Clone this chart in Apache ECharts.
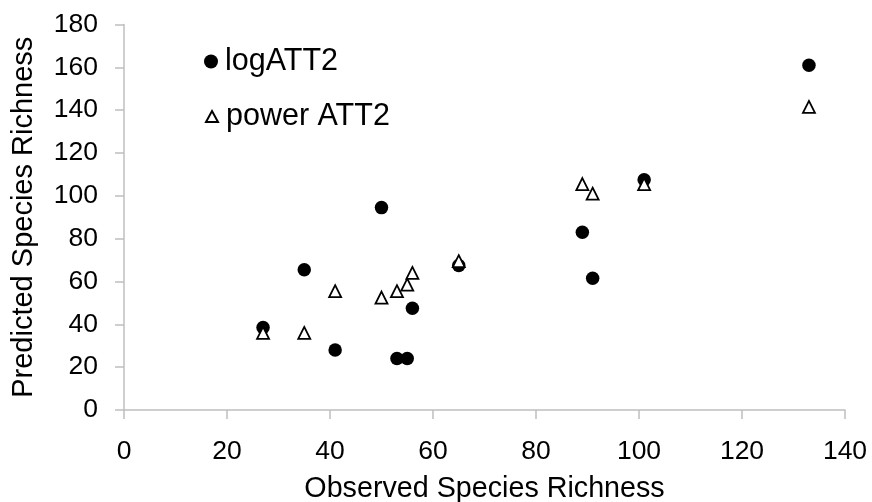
<!DOCTYPE html>
<html>
<head>
<meta charset="utf-8">
<script src="https://cdn.jsdelivr.net/npm/echarts@6/dist/echarts.min.js"></script>
<style>
  html, body { margin: 0; padding: 0; background: #fff; }
  #chart { width: 872px; height: 502px; }
</style>
</head>
<body>
<div id="chart"></div>
<script>
const observed = [27, 35, 41, 50, 53, 55, 56, 65, 89, 91, 101, 133];
const logATT2 = [38.5, 65.5, 28, 94.5, 24, 24, 47.5, 67.5, 83, 61.5, 107.5, 161];
const powerATT2 = [36, 36, 55.5, 52.5, 55.5, 58.5, 64, 69.5, 105.5, 101, 105.5, 141.5];
const seriesNames = ['logATT2', 'power ATT2'];
const xTitle = 'Observed Species Richness';
const yTitle = 'Predicted Species Richness';

const FONT = '"Liberation Sans", Arial, sans-serif';
const pair = (ys) => observed.map((x, i) => [x, ys[i]]);

const chart = echarts.init(document.getElementById('chart'), null, { renderer: 'canvas' });
chart.setOption({
  backgroundColor: '#ffffff',
  animation: false,
  textStyle: { fontFamily: FONT },
  grid: { left: 124, right: 27, top: 24.5, bottom: 92, containLabel: false, outerBoundsMode: 'none' },
  legend: [
    {
      data: [{ name: seriesNames[0], icon: 'circle' }],
      left: 204, top: 46, padding: 0,
      itemWidth: 14, itemHeight: 14, symbolKeepAspect: true,
      textStyle: { fontSize: 30.5, color: '#000', fontFamily: FONT, padding: [0, 0, 0, 2] }
    },
    {
      data: [{ name: seriesNames[1], icon: 'triangle' }],
      left: 205, top: 101, padding: 0,
      itemWidth: 12, itemHeight: 11, symbolKeepAspect: true,
      textStyle: { fontSize: 30.5, color: '#000', fontFamily: FONT, padding: [0, 0, 0, 3] }
    }
  ],
  xAxis: {
    type: 'value', min: 0, max: 140, interval: 20,
    name: xTitle, nameLocation: 'middle', nameGap: 65,
    nameTextStyle: { fontSize: 28.7, color: '#000', fontFamily: FONT },
    axisLine: { show: true, lineStyle: { color: '#bfbfbf', width: 1.5 } },
    axisTick: { show: true, inside: false, length: 9, lineStyle: { color: '#bfbfbf', width: 1.5 } },
    axisLabel: { fontSize: 26.5, color: '#000', margin: 28, fontFamily: FONT },
    splitLine: { show: false }
  },
  yAxis: {
    type: 'value', min: 0, max: 180, interval: 20,
    name: yTitle, nameLocation: 'middle', nameGap: 86,
    nameTextStyle: { fontSize: 29, color: '#000', fontFamily: FONT },
    axisLine: { show: true, lineStyle: { color: '#bfbfbf', width: 1.5 } },
    axisTick: { show: true, inside: false, length: 9, lineStyle: { color: '#bfbfbf', width: 1.5 } },
    axisLabel: { fontSize: 26.5, color: '#000', margin: 26, fontFamily: FONT },
    splitLine: { show: false }
  },
  series: [
    {
      name: seriesNames[0], type: 'scatter', symbol: 'circle', symbolSize: 13.5,
      data: pair(logATT2),
      itemStyle: { color: '#000', opacity: 1 },
      z: 2
    },
    {
      name: seriesNames[1], type: 'scatter', symbol: 'triangle', symbolSize: 12,
      data: pair(powerATT2),
      itemStyle: { color: '#fff', borderColor: '#000', borderWidth: 1.8, opacity: 1 },
      z: 3
    }
  ]
});
</script>
</body>
</html>
